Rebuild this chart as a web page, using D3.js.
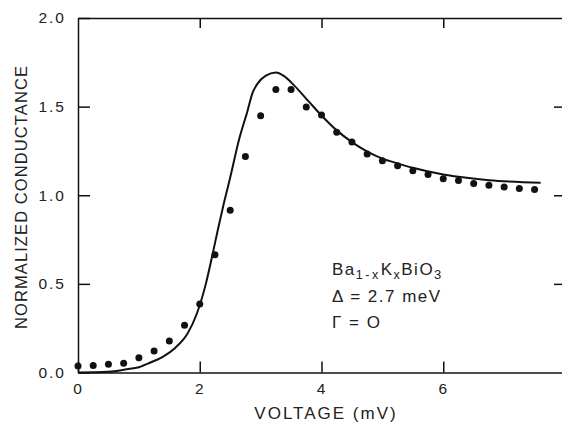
<!DOCTYPE html>
<html>
<head>
<meta charset="utf-8">
<script src="https://cdn.jsdelivr.net/npm/d3@7"></script>
<style>
    body { margin: 0; background: #fff; }
    svg { display: block; font-family: "Liberation Sans", Arial, sans-serif; }
</style>
</head>
<body>
<div id="chart"></div>
<script>
// measured points (dots)
const measuredVoltage = [0, 0.25, 0.5, 0.75, 1.0, 1.25, 1.5, 1.75, 2.0, 2.25, 2.5, 2.75, 3.0, 3.25, 3.5, 3.75,
    4.0, 4.25, 4.5, 4.75, 5.0, 5.25, 5.5, 5.75, 6.0, 6.25, 6.5, 6.75, 7.0, 7.25, 7.5];
const measuredConductance = [0.037, 0.040, 0.046, 0.052, 0.083, 0.121, 0.178, 0.266, 0.386, 0.664, 0.915, 1.219,
    1.448, 1.596, 1.596, 1.498, 1.453, 1.356, 1.301, 1.233, 1.194, 1.166, 1.138, 1.117, 1.093, 1.083, 1.066,
    1.057, 1.047, 1.038, 1.033];

// fitted curve
const fitVoltage = [0, 0.5, 0.8, 1.0, 1.2, 1.4, 1.6, 1.8, 1.95, 2.1, 2.2, 2.3, 2.4, 2.5, 2.65, 2.78, 2.87, 2.95,
    3.08, 3.25, 3.38, 3.55, 3.8, 4.0, 4.25, 4.5, 4.76, 5.0, 5.25, 5.5, 6.0, 6.25, 6.75, 7.6];
const fitConductance = [0, 0.004, 0.018, 0.03, 0.058, 0.09, 0.14, 0.22, 0.33, 0.50, 0.65, 0.81, 0.96, 1.10, 1.32,
    1.47, 1.58, 1.63, 1.673, 1.692, 1.673, 1.62, 1.525, 1.45, 1.366, 1.30, 1.245, 1.207, 1.18, 1.155, 1.117,
    1.104, 1.085, 1.07];

const xTicks = [0, 2, 4, 6];
const yTicks = [0, 0.5, 1.0, 1.5, 2.0];

const width = 562;
const height = 422;
const margin = {top: 18, right: -3, bottom: 50, left: 78};

const x = d3.scaleLinear()
    .domain([0, 8])
    .range([margin.left, width - margin.right]);

const y = d3.scaleLinear()
    .domain([0, 2])
    .range([height - margin.bottom + 0.5, margin.top]);

const svg = d3.select("#chart").append("svg")
    .attr("width", width)
    .attr("height", height);

svg.append("rect")
    .attr("width", width)
    .attr("height", height)
    .attr("fill", "#fff");

function styleAxis(g) {
    g.selectAll("path, line").attr("stroke", "#111").attr("stroke-width", 1.5);
    g.selectAll("text")
        .attr("fill", "#222")
        .style("font-size", "15.5px")
        .style("letter-spacing", "2px");
}

// bottom axis
svg.append("g")
    .attr("transform", `translate(0,${y(0)})`)
    .call(d3.axisBottom(x).tickValues(xTicks).tickSize(-11).tickSizeOuter(0).tickPadding(10).tickFormat(d3.format("d")))
    .call(styleAxis);

// left axis
svg.append("g")
    .attr("transform", `translate(${x(0)},0)`)
    .call(d3.axisLeft(y).tickValues(yTicks).tickSize(-12).tickSizeOuter(0).tickPadding(12).tickFormat(d3.format(".1f")))
    .call(styleAxis);

// top and right frame
svg.append("g")
    .attr("transform", `translate(0,${y(2)})`)
    .call(d3.axisTop(x).tickValues([2, 4, 6]).tickSize(-10).tickSizeOuter(0).tickFormat(""))
    .call(styleAxis);

svg.append("g")
    .attr("transform", `translate(${x(8)},0)`)
    .call(d3.axisRight(y).tickValues([0.5, 1.0, 1.5]).tickSize(-11).tickSizeOuter(0).tickFormat(""))
    .call(styleAxis);

// axis titles
svg.append("text")
    .attr("x", 326)
    .attr("y", 419)
    .attr("text-anchor", "middle")
    .attr("fill", "#222")
    .style("font-size", "17px")
    .style("letter-spacing", "2px")
    .text("VOLTAGE (mV)");

svg.append("text")
    .attr("transform", "translate(26.5,197) rotate(-90)")
    .attr("text-anchor", "middle")
    .attr("fill", "#222")
    .style("font-size", "16.5px")
    .style("letter-spacing", "1.1px")
    .text("NORMALIZED CONDUCTANCE");

// fitted curve
const fit = fitVoltage.map((v, i) => ({v: v, g: fitConductance[i]}));
svg.append("path")
    .datum(fit)
    .attr("fill", "none")
    .attr("stroke", "#111")
    .attr("stroke-width", 2)
    .attr("d", d3.line()
        .x(d => x(d.v))
        .y(d => y(d.g))
        .curve(d3.curveMonotoneX));

// measured dots
const measured = measuredVoltage.map((v, i) => ({v: v, g: measuredConductance[i]}));
svg.append("g")
    .selectAll("circle")
    .data(measured)
    .enter().append("circle")
    .attr("cx", d => x(d.v))
    .attr("cy", d => y(d.g))
    .attr("r", 3.5)
    .attr("fill", "#111");

// annotation
const note = svg.append("g")
    .attr("fill", "#222")
    .style("font-size", "17px")
    .style("letter-spacing", "1.5px");

const formula = note.append("text").attr("x", 332).attr("y", 275);
formula.append("tspan").text("Ba");
formula.append("tspan").attr("dy", 4).style("font-size", "12.5px").style("letter-spacing", "2.5px").text("1-x");
formula.append("tspan").attr("dy", -4).text("K");
formula.append("tspan").attr("dy", 4).style("font-size", "12.5px").text("x");
formula.append("tspan").attr("dy", -4).text("BiO");
formula.append("tspan").attr("dy", 4).style("font-size", "13px").text("3");

note.append("text").attr("x", 332).attr("y", 302).text("Δ = 2.7 meV");
note.append("text").attr("x", 332).attr("y", 328).text("Γ = O");
</script>
</body>
</html>
